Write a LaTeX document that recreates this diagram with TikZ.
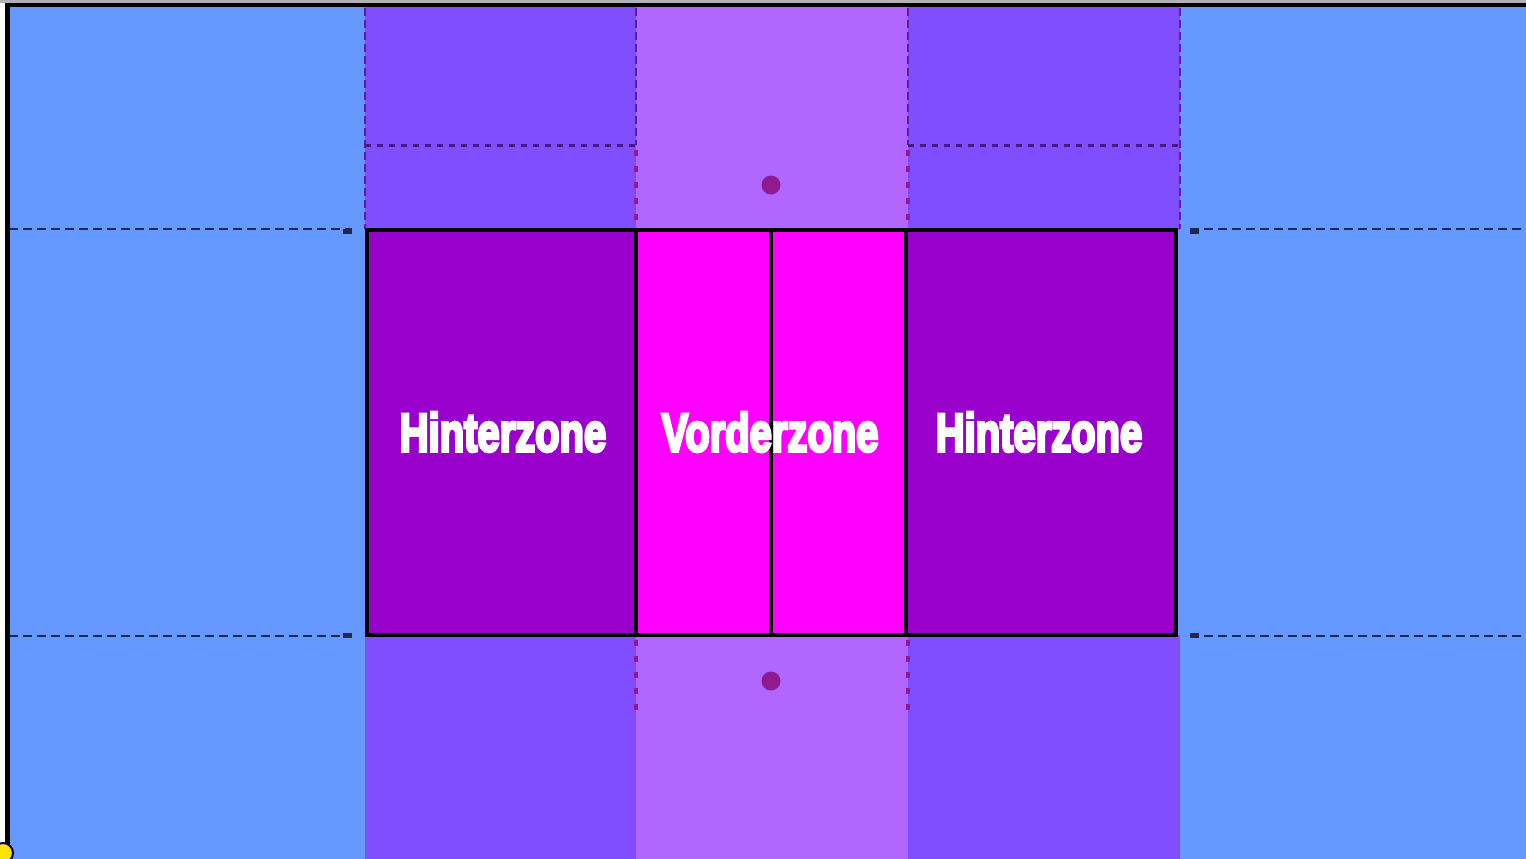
\documentclass[tikz,border=0pt]{standalone}
\usepackage{fontspec}
\setmainfont{Liberation Sans}
\definecolor{bg}{HTML}{6699FF}
\definecolor{side}{HTML}{804DFF}
\definecolor{mid}{HTML}{B066FF}
\definecolor{hint}{HTML}{9900CC}
\definecolor{vord}{HTML}{FF00FF}
\definecolor{dotc}{HTML}{8E1C8E}
\definecolor{dashp}{HTML}{5E1E9E}
\definecolor{dashn}{HTML}{1E2850}
\tikzset{
  zone/.style={draw=none, inner sep=0pt, outer sep=0pt, anchor=north west},
  courtline/.style={line width=3.6pt, black},
  longdash/.style={dashp, line width=1.8pt, dash pattern=on 8pt off 4pt},
  shortdot/.style={dashp!80!black, line width=3pt, dash pattern=on 6pt off 6pt},
  sidedot/.style={dotc, line width=3.4pt, dash pattern=on 6pt off 10pt},
  navydash/.style={dashn, line width=1.8pt, dash pattern=on 9pt off 5pt},
  label/.style={text=white, font=\bfseries\fontsize{54}{60}\selectfont, inner sep=0pt},
}
\newcommand{\zonetext}[1]{\scalebox{0.74}[1]{\special{pdf:literal direct 2 Tr 3.2 w 1 1 1 RG}#1\special{pdf:literal direct 0 Tr}}}
\begin{document}
\begin{tikzpicture}[x=1pt,y=-1pt]
\useasboundingbox (0,0) rectangle (1526,859);
\fill[white] (0,0) rectangle (1526,859);
\fill[bg] (7,6) rectangle (1526,859);
% top/bottom columns
\fill[side] (365,6) rectangle (636,230);
\fill[mid] (636,6) rectangle (908,230);
\fill[side] (908,6) rectangle (1180,230);
\fill[side] (365,635) rectangle (636,859);
\fill[mid] (636,635) rectangle (908,859);
\fill[side] (908,635) rectangle (1180,859);
% dashed lines in top region
\coordinate (t1) at (365,8); \coordinate (b1) at (365,229);
\coordinate (t4) at (1180,8); \coordinate (b4) at (1180,229);
\draw[longdash] (t1) -- (b1);
\draw[longdash] (t4) -- (b4);
\coordinate (t2) at (636,8); \coordinate (m2) at (636,145);
\coordinate (t3) at (908,8); \coordinate (m3) at (908,145);
\draw[longdash] (t2) -- (m2);
\draw[longdash] (t3) -- (m3);
\coordinate (h1) at (365,145); \coordinate (h4) at (1180,145);
\draw[shortdot] (h1) -- (m2);
\draw[shortdot] (m3) -- (h4);
\coordinate (n2) at (636,150); \coordinate (n2b) at (636,229);
\coordinate (n3) at (908,150); \coordinate (n3b) at (908,229);
\draw[sidedot] (n2) -- (n2b);
\draw[sidedot] (n3) -- (n3b);
\coordinate (p2) at (636,640); \coordinate (q2) at (636,716);
\coordinate (p3) at (908,640); \coordinate (q3) at (908,716);
\draw[sidedot] (p2) -- (q2);
\draw[sidedot] (p3) -- (q3);
% service dots
\fill[dotc] (771,185) circle (9.5);
\fill[dotc] (771,681) circle (9.5);
% navy dashed side lines
\coordinate (la) at (9,229); \coordinate (lb) at (352,229);
\coordinate (lc) at (9,636); \coordinate (ld) at (352,636);
\coordinate (ra) at (1190,229); \coordinate (rb) at (1526,229);
\coordinate (rc) at (1190,636); \coordinate (rd) at (1526,636);
\draw[navydash] (la) -- (lb);
\draw[navydash] (lc) -- (ld);
\draw[navydash] (ra) -- (rb);
\draw[navydash] (rc) -- (rd);
\fill[dashn] (343,229) rectangle (352,234);
\fill[dashn] (343,633) rectangle (352,638);
\fill[dashn] (1190,229) rectangle (1199,234);
\fill[dashn] (1190,633) rectangle (1199,638);
% court zones
\node[zone, fill=hint, minimum width=269pt, minimum height=405pt] (hl) at (367,230) {};
\node[zone, fill=vord, minimum width=270pt, minimum height=405pt] (vz) at (636,230) {};
\node[zone, fill=hint, minimum width=270pt, minimum height=405pt] (hr) at (906,230) {};
\draw[courtline] (367,230) rectangle (1176,635);
\draw[courtline] (hl.north east) -- (hl.south east);
\draw[courtline] (vz.north) -- (vz.south);
\draw[courtline] (vz.north east) -- (vz.south east);
% labels
\node[label] (thl) at (503,432) {\zonetext{Hinterzone}};
\node[label] (tvz) at (770,432) {\zonetext{Vorderzone}};
\node[label] (thr) at (1039,432) {\zonetext{Hinterzone}};
% frame
\fill[gray!60] (0,0) rectangle (1526,3.5);
\fill[black] (5,3.5) rectangle (1526,7.5);
\fill[black] (5,3.5) rectangle (9.5,859);
% corner marker
\fill[yellow!85!orange, draw=blue!40!black, line width=2pt] (3,853) circle (10);
\end{tikzpicture}
\end{document}
